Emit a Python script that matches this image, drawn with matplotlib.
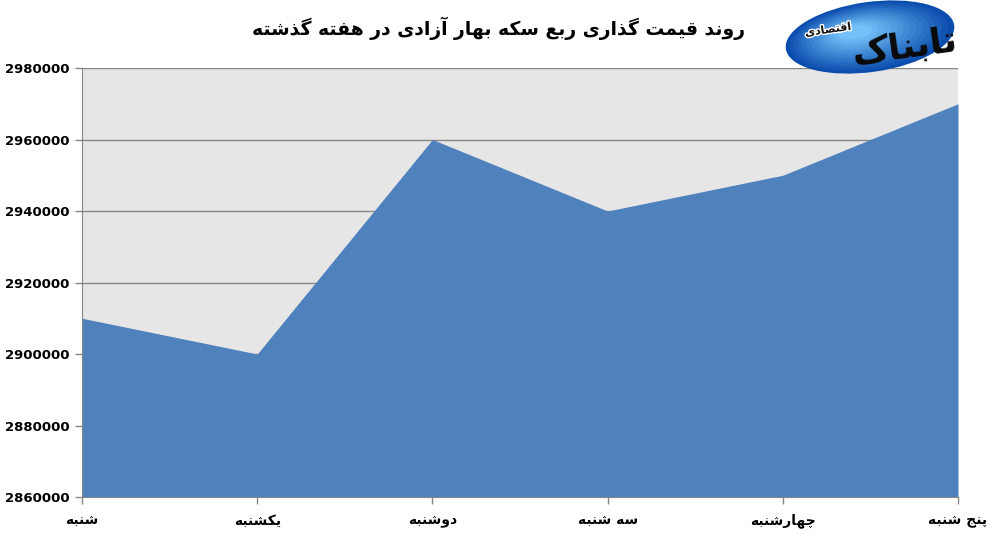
import matplotlib
matplotlib.use("Agg")
import matplotlib.pyplot as plt
from matplotlib.patches import Ellipse
import matplotlib.patheffects as pe
import numpy as np

# ---- data ----
categories = ["شنبه", "یکشنبه", "دوشنبه", "سه شنبه", "چهارشنبه", "پنج شنبه"]
prices = [2910000, 2900000, 2960000, 2940000, 2950000, 2970000]
y_ticks = [2860000, 2880000, 2900000, 2920000, 2940000, 2960000, 2980000]
title_text = "روند قیمت گذاری ربع سکه بهار آزادی در هفته گذشته"
logo_main = "تابناک"
logo_sub = "اقتصادی"

# ---- minimal Persian shaping (presentation forms + RTL order) ----
FORMS = {  # isolated, final, initial, medial
    "ا": ("\uFE8D", "\uFE8E", None, None),
    "آ": ("\uFE81", "\uFE82", None, None),
    "ب": ("\uFE8F", "\uFE90", "\uFE91", "\uFE92"),
    "پ": ("\uFB56", "\uFB57", "\uFB58", "\uFB59"),
    "ت": ("\uFE95", "\uFE96", "\uFE97", "\uFE98"),
    "ج": ("\uFE9D", "\uFE9E", "\uFE9F", "\uFEA0"),
    "چ": ("\uFB7A", "\uFB7B", "\uFB7C", "\uFB7D"),
    "د": ("\uFEA9", "\uFEAA", None, None),
    "ذ": ("\uFEAB", "\uFEAC", None, None),
    "ر": ("\uFEAD", "\uFEAE", None, None),
    "ز": ("\uFEAF", "\uFEB0", None, None),
    "س": ("\uFEB1", "\uFEB2", "\uFEB3", "\uFEB4"),
    "ش": ("\uFEB5", "\uFEB6", "\uFEB7", "\uFEB8"),
    "ص": ("\uFEB9", "\uFEBA", "\uFEBB", "\uFEBC"),
    "ع": ("\uFEC9", "\uFECA", "\uFECB", "\uFECC"),
    "ف": ("\uFED1", "\uFED2", "\uFED3", "\uFED4"),
    "ق": ("\uFED5", "\uFED6", "\uFED7", "\uFED8"),
    "ک": ("\uFB8E", "\uFB8F", "\uFB90", "\uFB91"),
    "گ": ("\uFB92", "\uFB93", "\uFB94", "\uFB95"),
    "م": ("\uFEE1", "\uFEE2", "\uFEE3", "\uFEE4"),
    "ن": ("\uFEE5", "\uFEE6", "\uFEE7", "\uFEE8"),
    "و": ("\uFEED", "\uFEEE", None, None),
    "ه": ("\uFEE9", "\uFEEA", "\uFEEB", "\uFEEC"),
    "ی": ("\uFBFC", "\uFBFD", "\uFBFE", "\uFBFF"),
}


def shape(text):
    out = []
    n = len(text)
    for i, ch in enumerate(text):
        if ch not in FORMS:
            out.append(ch)
            continue
        prev = text[i - 1] if i > 0 else None
        nxt = text[i + 1] if i < n - 1 else None
        join_prev = prev in FORMS and FORMS[prev][2] is not None
        join_next = nxt in FORMS and FORMS[ch][2] is not None
        iso, fin, ini, med = FORMS[ch]
        if join_prev and join_next:
            out.append(med)
        elif join_prev:
            out.append(fin)
        elif join_next:
            out.append(ini)
        else:
            out.append(iso)
    return "".join(reversed(out))


plt.rcParams["font.family"] = ["DejaVu Sans"]

W, H = 993, 536
fig = plt.figure(figsize=(W / 100, H / 100), dpi=100)
fig.patch.set_facecolor("white")

ax = fig.add_axes([82 / W, 1 - 497 / H, (958 - 82) / W, (497 - 68) / H])
ax.set_facecolor("#e6e6e6")
x = np.arange(len(categories))
ax.fill_between(x, y_ticks[0], prices, color="#4f81bd", zorder=3, linewidth=0)

ax.set_xlim(x[0], x[-1])
ax.set_ylim(y_ticks[0], y_ticks[-1])
ax.set_yticks(y_ticks)
ax.set_yticklabels([str(v) for v in y_ticks], fontsize=9.5, fontweight="bold", color="black")
ax.set_xticks(x)
ax.set_xticklabels([shape(c) for c in categories], fontsize=10, fontweight="bold", color="black")
ax.grid(axis="y", color="#868686", linewidth=1, zorder=1)
ax.set_axisbelow(True)
for s in ["top", "right"]:
    ax.spines[s].set_visible(False)
for s in ["left", "bottom"]:
    ax.spines[s].set_color("#868686")
    ax.spines[s].set_zorder(4)
ax.tick_params(axis="both", direction="out", length=5, color="#868686", width=1)
ax.tick_params(axis="x", pad=7)
ax.tick_params(axis="y", pad=4)

fig.text(499 / W, 1 - 28 / H, shape(title_text), ha="center", va="center",
         fontsize=13.5, fontweight="bold", color="black")

# logo: shaded blue ellipse with text
cx, cy = 870 / 100, (H - 37) / 100
outer = np.array([0.04, 0.30, 0.68])
inner = np.array([0.45, 0.75, 0.97])
steps = 14
for k in range(steps):
    t = k / (steps - 1)
    s = 1 - 0.8 * t
    col = outer * (1 - t) + inner * t
    e = Ellipse((cx - 0.15 * t, cy + 0.05 * t), 1.70 * s, 0.70 * s, angle=8,
                transform=fig.dpi_scale_trans, facecolor=col, edgecolor="none")
    fig.patches.append(e)
fig.text(905 / W, 1 - 48 / H, shape(logo_main), ha="center", va="center",
         fontsize=26, fontweight="bold", color="#0a0a0a", rotation=8)
fig.text(828 / W, 1 - 30 / H, shape(logo_sub), ha="center", va="center",
         fontsize=8, fontweight="bold", color="#111111", rotation=8,
         path_effects=[pe.withStroke(linewidth=2, foreground="white")])

fig.savefig("out.png", dpi=100)
